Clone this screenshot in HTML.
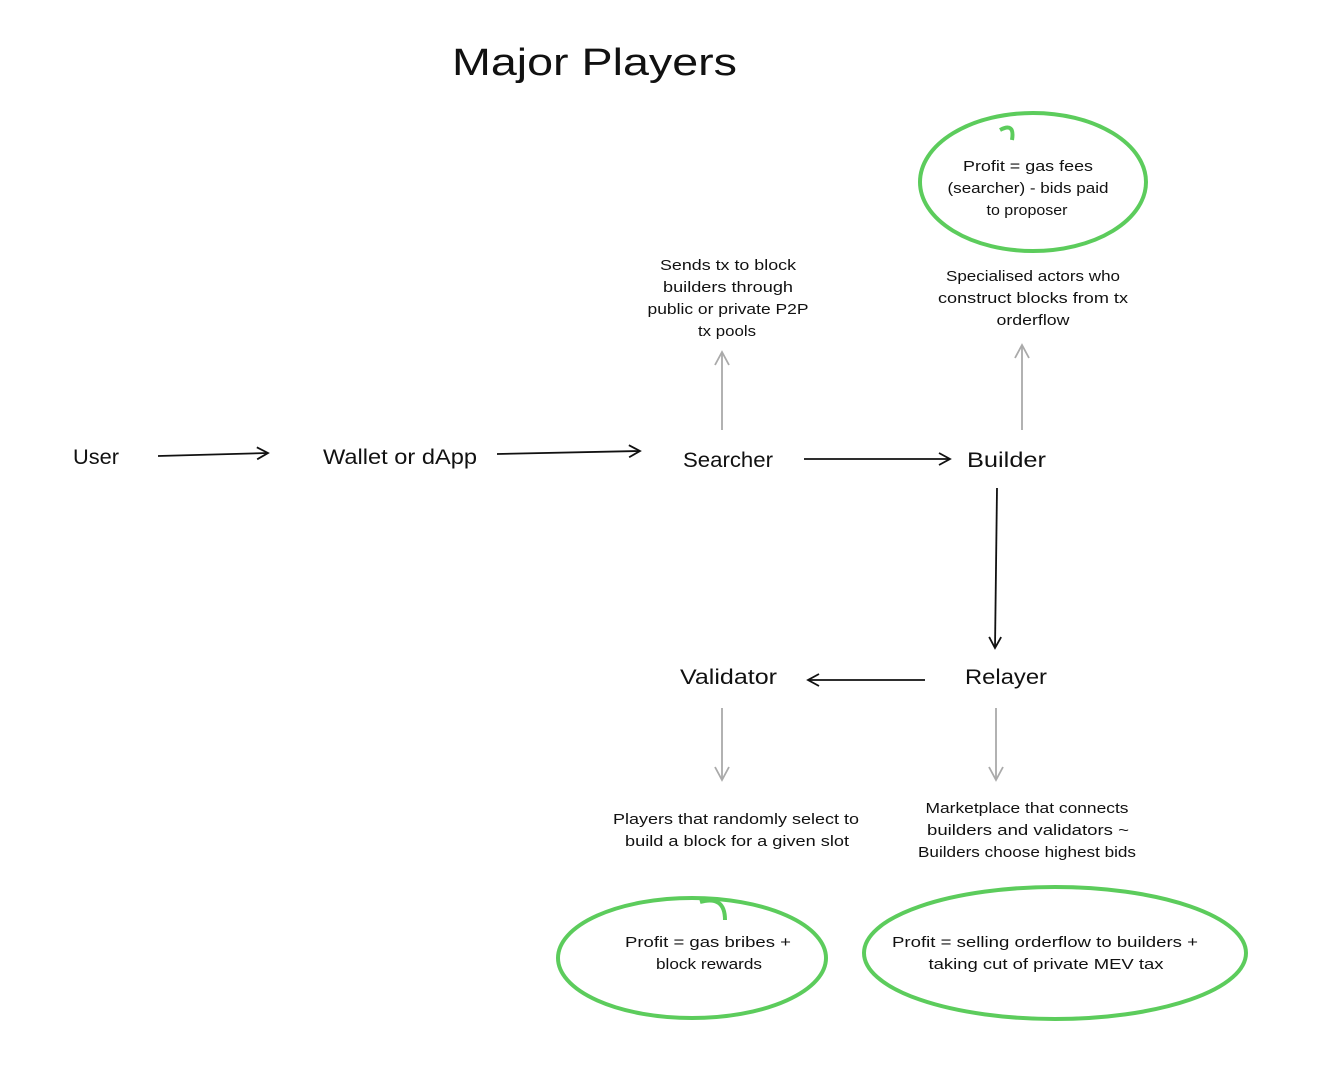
<!DOCTYPE html>
<html><head><meta charset="utf-8"><style>
html,body{margin:0;padding:0;background:#fff;}
svg{display:block;}
text{font-family:"Liberation Sans",sans-serif;fill:#111;}
.s{font-size:15px;text-anchor:middle;}
.n{font-size:21px;}
</style></head><body>
<svg width="1318" height="1081" viewBox="0 0 1318 1081" xmlns="http://www.w3.org/2000/svg">
<defs>
<marker id="a" markerWidth="14" markerHeight="14" refX="12" refY="7" orient="auto" markerUnits="userSpaceOnUse"><path d="M1,1 L12,7 L1,13" fill="none" stroke="#111" stroke-width="1.8"/></marker>
<marker id="g" markerWidth="16" markerHeight="16" refX="14" refY="8" orient="auto" markerUnits="userSpaceOnUse"><path d="M1,1 L14,8 L1,15" fill="none" stroke="#aaa" stroke-width="1.8"/></marker>
</defs>
<text x="452" y="75" font-size="38" textLength="285" lengthAdjust="spacingAndGlyphs">Major Players</text>

<text class="n" x="73" y="464" textLength="46" lengthAdjust="spacingAndGlyphs">User</text>
<text class="n" x="323" y="464" textLength="154" lengthAdjust="spacingAndGlyphs">Wallet or dApp</text>
<text class="n" x="683" y="467" textLength="90" lengthAdjust="spacingAndGlyphs">Searcher</text>
<text class="n" x="967" y="467" textLength="79" lengthAdjust="spacingAndGlyphs">Builder</text>
<text class="n" x="680" y="684" textLength="97" lengthAdjust="spacingAndGlyphs">Validator</text>
<text class="n" x="965" y="684" textLength="82" lengthAdjust="spacingAndGlyphs">Relayer</text>

<g stroke="#111" stroke-width="1.8" fill="none">
<path d="M158,456 L268,453" marker-end="url(#a)"/>
<path d="M497,454 L640,451" marker-end="url(#a)"/>
<path d="M804,459 L950,459" marker-end="url(#a)"/>
<path d="M997,488 L995,648" marker-end="url(#a)"/>
<path d="M925,680 L808,680" marker-end="url(#a)"/>
</g>
<g stroke="#aaa" stroke-width="1.8" fill="none">
<path d="M722,430 L722,352" marker-end="url(#g)"/>
<path d="M1022,430 L1022,345" marker-end="url(#g)"/>
<path d="M722,708 L722,780" marker-end="url(#g)"/>
<path d="M996,708 L996,780" marker-end="url(#g)"/>
</g>

<g lengthAdjust="spacingAndGlyphs">
<text class="s" x="728" y="270" textLength="136" lengthAdjust="spacingAndGlyphs">Sends tx to block</text>
<text class="s" x="728" y="292" textLength="130" lengthAdjust="spacingAndGlyphs">builders through</text>
<text class="s" x="728" y="314" textLength="161" lengthAdjust="spacingAndGlyphs">public or private P2P</text>
<text class="s" x="727" y="336" textLength="58" lengthAdjust="spacingAndGlyphs">tx pools</text>

<text class="s" x="1033" y="281" textLength="174" lengthAdjust="spacingAndGlyphs">Specialised actors who</text>
<text class="s" x="1033" y="303" textLength="190" lengthAdjust="spacingAndGlyphs">construct blocks from tx</text>
<text class="s" x="1033" y="325" textLength="73" lengthAdjust="spacingAndGlyphs">orderflow</text>
</g>

<g stroke="#5ccc5c" stroke-width="4" fill="none">
<ellipse cx="1033" cy="182" rx="113" ry="69"/>
<path d="M1000,130 Q1015,122 1012,140"/>
<ellipse cx="692" cy="958" rx="134" ry="60"/>
<path d="M700,902 Q725,895 725,920"/>
<ellipse cx="1055" cy="953" rx="191" ry="66"/>
</g>
<text class="s" x="1028" y="171" textLength="130" lengthAdjust="spacingAndGlyphs">Profit = gas fees</text>
<text class="s" x="1028" y="193" textLength="161" lengthAdjust="spacingAndGlyphs">(searcher) - bids paid</text>
<text class="s" x="1027" y="215" textLength="81" lengthAdjust="spacingAndGlyphs">to proposer</text>

<text class="s" x="736" y="824" textLength="246" lengthAdjust="spacingAndGlyphs">Players that randomly select to</text>
<text class="s" x="737" y="846" textLength="224" lengthAdjust="spacingAndGlyphs">build a block for a given slot</text>

<text class="s" x="1027" y="813" textLength="203" lengthAdjust="spacingAndGlyphs">Marketplace that connects</text>
<text class="s" x="1028" y="835" textLength="202" lengthAdjust="spacingAndGlyphs">builders and validators ~</text>
<text class="s" x="1027" y="857" textLength="218" lengthAdjust="spacingAndGlyphs">Builders choose highest bids</text>

<text class="s" x="708" y="947" textLength="166" lengthAdjust="spacingAndGlyphs">Profit = gas bribes +</text>
<text class="s" x="709" y="969" textLength="106" lengthAdjust="spacingAndGlyphs">block rewards</text>

<text class="s" x="1045" y="947" textLength="306" lengthAdjust="spacingAndGlyphs">Profit = selling orderflow to builders +</text>
<text class="s" x="1046" y="969" textLength="235" lengthAdjust="spacingAndGlyphs">taking cut of private MEV tax</text>
</svg>
</body></html>
